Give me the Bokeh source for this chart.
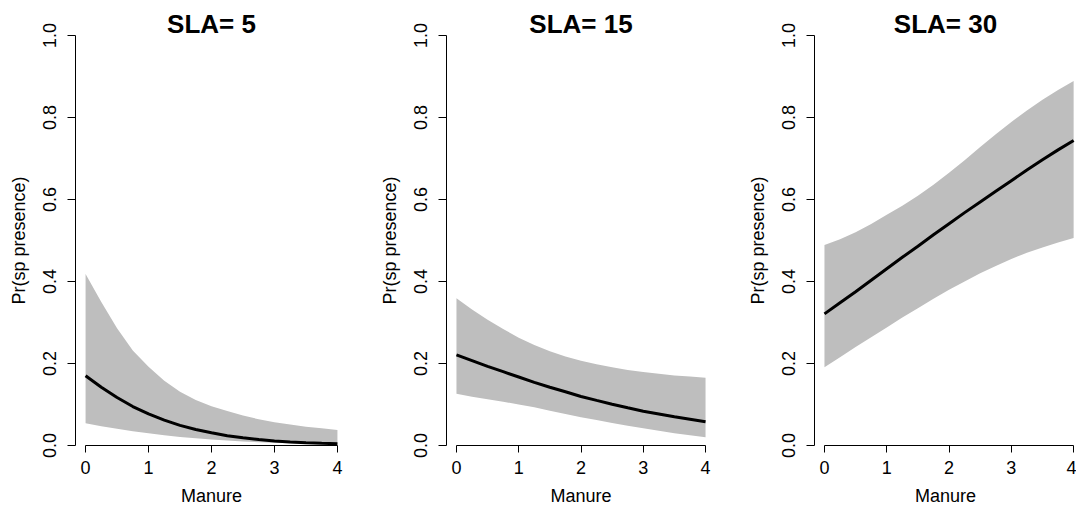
from bokeh.plotting import figure
from bokeh.layouts import row
from bokeh.models import FixedTicker, PrintfTickFormatter, Range1d
from bokeh.embed import file_html
from bokeh.resources import INLINE

# ---------------- data ----------------
manure = [0.0, 0.25, 0.5, 0.75, 1.0, 1.25, 1.5, 1.75, 2.0,
          2.25, 2.5, 2.75, 3.0, 3.25, 3.5, 3.75, 4.0]

sla_titles = ["SLA= 5", "SLA= 15", "SLA= 30"]

fit_sla5 = [0.170, 0.142, 0.117, 0.095, 0.077, 0.062, 0.049, 0.039, 0.031,
            0.024, 0.019, 0.0145, 0.011, 0.0085, 0.0068, 0.0053, 0.0042]
hi_sla5 = [0.418, 0.350, 0.286, 0.232, 0.192, 0.158, 0.131, 0.111, 0.096,
           0.084, 0.073, 0.064, 0.057, 0.051, 0.046, 0.042, 0.038]
lo_sla5 = [0.054, 0.047, 0.041, 0.035, 0.030, 0.025, 0.021, 0.0175, 0.0146,
           0.012, 0.0098, 0.008, 0.0065, 0.0052, 0.004, 0.003, 0.0024]

fit_sla15 = [0.221, 0.207, 0.193, 0.180, 0.167, 0.154, 0.142, 0.131, 0.1195,
             0.110, 0.1006, 0.092, 0.0837, 0.077, 0.070, 0.064, 0.058]
hi_sla15 = [0.359, 0.332, 0.307, 0.284, 0.263, 0.245, 0.230, 0.217, 0.207,
            0.198, 0.191, 0.184, 0.179, 0.175, 0.171, 0.168, 0.165]
lo_sla15 = [0.126, 0.119, 0.113, 0.107, 0.100, 0.093, 0.085, 0.077, 0.069,
            0.062, 0.055, 0.048, 0.042, 0.036, 0.030, 0.025, 0.020]

fit_sla30 = [0.321, 0.348, 0.375, 0.403, 0.431, 0.459, 0.486, 0.514, 0.541,
             0.568, 0.594, 0.620, 0.646, 0.672, 0.697, 0.721, 0.744]
hi_sla30 = [0.489, 0.503, 0.520, 0.540, 0.563, 0.585, 0.609, 0.636, 0.665,
            0.696, 0.728, 0.759, 0.789, 0.817, 0.843, 0.867, 0.889]
lo_sla30 = [0.191, 0.215, 0.240, 0.264, 0.288, 0.312, 0.335, 0.358, 0.380,
            0.400, 0.420, 0.438, 0.455, 0.470, 0.483, 0.495, 0.506]

x_ticks = [0, 1, 2, 3, 4]
y_ticks = [0.0, 0.2, 0.4, 0.6, 0.8, 1.0]

x_label = "Manure"
y_label = "Pr(sp presence)"

FONT = "Liberation Sans"
BAND = "#BEBEBE"


def make_panel(title, fit, lo, hi, width, left_border, right_border, x_end):
    p = figure(width=width, height=509, output_backend="svg", toolbar_location=None,
               x_range=Range1d(-0.16, x_end), y_range=Range1d(0, 1),
               min_border_left=left_border, min_border_right=right_border,
               min_border_top=35, min_border_bottom=64, title=title)
    p.title.align = "center"
    p.title.text_font = FONT
    p.title.text_font_size = "26px"
    p.title.text_font_style = "bold"
    p.title.text_color = "black"
    p.title.standoff = -7

    p.varea(x=manure, y1=lo, y2=hi, fill_color=BAND)
    p.line(x=manure, y=fit, line_color="black", line_width=3)

    p.xgrid.visible = False
    p.ygrid.visible = False
    p.outline_line_color = None
    p.background_fill_color = "white"
    p.border_fill_color = "white"

    for ax in (p.xaxis[0], p.yaxis[0]):
        ax.axis_line_color = "black"
        ax.axis_line_width = 1
        ax.major_tick_line_color = "black"
        ax.major_tick_in = 0
        ax.minor_tick_line_color = None
        ax.major_label_text_font = FONT
        ax.major_label_text_font_size = "18px"
        ax.major_label_text_color = "black"
        ax.axis_label_text_font = FONT
        ax.axis_label_text_font_size = "18px"
        ax.axis_label_text_font_style = "normal"
        ax.axis_label_text_color = "black"

    xa = p.xaxis[0]
    xa.ticker = FixedTicker(ticks=x_ticks)
    xa.bounds = (x_ticks[0], x_ticks[-1])
    xa.major_tick_out = 7
    xa.major_label_standoff = 8
    xa.axis_label = x_label
    xa.axis_label_standoff = 9

    ya = p.yaxis[0]
    ya.ticker = FixedTicker(ticks=y_ticks)
    ya.formatter = PrintfTickFormatter(format="%.1f")
    ya.bounds = (y_ticks[0], y_ticks[-1])
    ya.major_tick_out = 8
    ya.major_label_orientation = "vertical"
    ya.major_label_standoff = 12
    ya.axis_label = y_label
    ya.axis_label_standoff = 11
    return p


p1 = make_panel(sla_titles[0], fit_sla5, lo_sla5, hi_sla5, 376, 75, 29, 4.16)
p2 = make_panel(sla_titles[1], fit_sla15, lo_sla15, hi_sla15, 368, 67, 29, 4.16)
p3 = make_panel(sla_titles[2], fit_sla30, lo_sla30, hi_sla30, 332, 67, 0, 4.046)

layout = row(p1, p2, p3)
open("out.html", "w").write(file_html(layout, INLINE))
